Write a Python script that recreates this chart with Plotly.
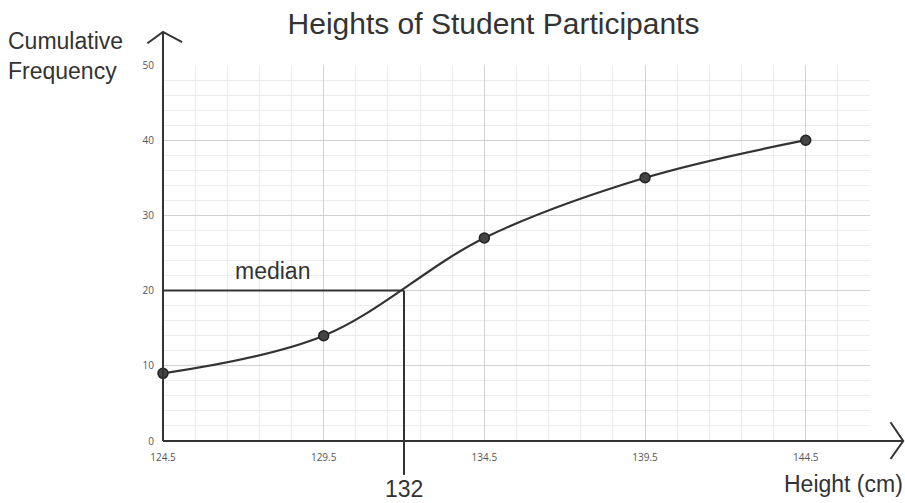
import plotly.graph_objects as go

# Data
heights = [124.5, 129.5, 134.5, 139.5, 144.5]
cum_freq = [9, 14, 27, 35, 40]
x_ticks = [124.5, 129.5, 134.5, 139.5, 144.5]
y_ticks = [0, 10, 20, 30, 40, 50]
median_cf = 20
median_height = 132
x_range = [124.5, 146.5]
y_range = [0, 50]

fig = go.Figure()
fig.add_trace(go.Scatter(
    x=heights, y=cum_freq, mode="lines+markers",
    line=dict(color="#333333", width=2.2, shape="spline", smoothing=1.0),
    marker=dict(size=10, color="#444444", line=dict(color="#222222", width=1.5)),
    cliponaxis=False, showlegend=False, hoverinfo="skip",
))

shapes = []
# median horizontal
shapes.append(dict(type="line", xref="x", yref="y", x0=x_range[0], x1=median_height,
                   y0=median_cf, y1=median_cf, line=dict(color="#333333", width=2)))
# median vertical (extends below axis)
shapes.append(dict(type="line", xref="x", yref="paper", x0=median_height, x1=median_height,
                   y0=-0.09, y1=(median_cf - y_range[0]) / (y_range[1] - y_range[0]),
                   line=dict(color="#333333", width=2)))
# y axis with arrow
shapes.append(dict(type="line", xref="paper", yref="paper", x0=0, x1=0, y0=0, y1=1.088,
                   line=dict(color="#333333", width=2)))
shapes.append(dict(type="path", xref="paper", yref="paper",
                   path="M -0.022,1.058 L 0,1.088 L 0.027,1.061",
                   line=dict(color="#333333", width=2)))
# x axis with arrow
shapes.append(dict(type="line", xref="paper", yref="paper", x0=0, x1=1.047, y0=0, y1=0,
                   line=dict(color="#333333", width=2)))
shapes.append(dict(type="path", xref="paper", yref="paper",
                   path="M 1.029,0.05 L 1.047,0 L 1.029,-0.048",
                   line=dict(color="#333333", width=2)))

annotations = [
    dict(text="median", x=127.9, y=22.6, xref="x", yref="y", showarrow=False,
         font=dict(size=23, color="#333333")),
    dict(text=str(median_height), x=median_height, xref="x", yref="paper", y=-0.128,
         yanchor="middle", showarrow=False, font=dict(size=23, color="#333333")),
    dict(text="Height (cm)", x=1.049, xref="paper", xanchor="right", y=-0.115, yref="paper",
         yanchor="middle", showarrow=False, font=dict(size=23, color="#333333")),
    dict(text="Cumulative<br>Frequency", x=-0.222, xref="paper", xanchor="left",
         y=1.024, yref="paper", yanchor="middle", align="left", showarrow=False,
         font=dict(size=23, color="#333333")),
]

fig.update_layout(
    width=905, height=503,
    margin=dict(l=163, r=35, t=65, b=62),
    paper_bgcolor="white", plot_bgcolor="white",
    font=dict(family="Liberation Sans, Arial, sans-serif", color="#333333"),
    title=dict(text="Heights of Student Participants", x=493.5 / 905, xref="container",
               xanchor="center", y=1 - 23 / 503, yanchor="middle", yref="container",
               font=dict(size=30, color="#333333")),
    shapes=shapes, annotations=annotations,
    xaxis=dict(range=x_range, tickmode="array", tickvals=x_ticks,
               ticktext=[str(v) for v in x_ticks], showline=False, zeroline=False,
               showgrid=True, gridcolor="#d2d2d2", gridwidth=1,
               minor=dict(dtick=1, tick0=124.5, showgrid=True, gridcolor="#ececec", gridwidth=1),
               tickfont=dict(size=10, color="#555555", family="Open Sans, sans-serif"),
               ticks="", ticklabelstandoff=9, fixedrange=True),
    yaxis=dict(range=y_range, tickmode="array", tickvals=y_ticks, showline=False,
               zeroline=False, showgrid=True, gridcolor="#d2d2d2", gridwidth=1,
               minor=dict(dtick=2, tick0=0, showgrid=True, gridcolor="#ececec", gridwidth=1),
               tickfont=dict(size=10, color="#555555", family="Open Sans, sans-serif"),
               ticks="", ticklabelstandoff=8, fixedrange=True),
)

fig.write_html("out.html", config={"displayModeBar": False},
               post_script="document.body.style.margin='0px';document.body.style.overflow='hidden';")
